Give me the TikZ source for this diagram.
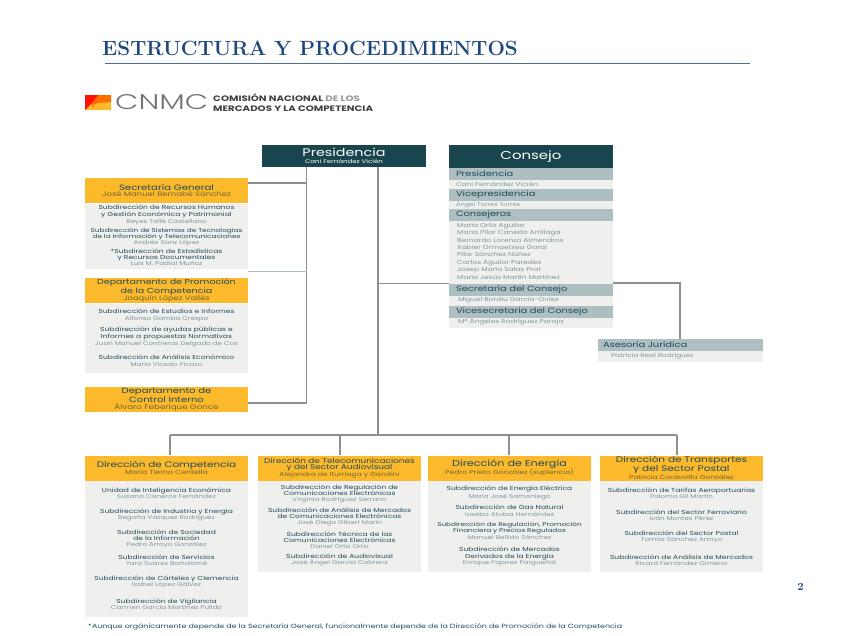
\documentclass[tikz,border=0pt]{standalone}
\usepackage{fontspec}
\usepackage{graphicx}
\setmainfont[FakeStretch=1.3]{Poppins}
\newfontfamily\titlefont{Latin Modern Roman}
\newfontfamily\thinfont{Poppins Light}
\definecolor{gold}{HTML}{FBB92B}
\definecolor{deep}{HTML}{19454F}
\definecolor{band}{HTML}{AEBFC1}
\definecolor{pale}{HTML}{EFEFEE}
\definecolor{ink}{HTML}{1F4A58}
\definecolor{soft}{HTML}{7F979D}
\definecolor{goldnm}{HTML}{75662F}
\definecolor{wire}{HTML}{8E8F90}
\definecolor{navy}{HTML}{1F497D}
\newcommand{\fs}[2]{\fontsize{#1}{#2}\selectfont}
\newcommand{\nm}[1]{{\fs{5.5}{6.2}\color{soft}#1}}
\newcommand{\gn}[1]{{\color{goldnm}#1}}
\tikzset{
 box/.style={inner sep=0pt,outer sep=0pt,minimum width=163pt},
 goldbox/.style={box,fill=gold,minimum height=25pt,align=center,text=ink,font=\fs{7.8}{7}},
 dirbox/.style={goldbox,font=\fs{8}{7.6}},
 panel/.style={box,fill=pale,anchor=north},
 bandrow/.style={box,fill=band,minimum width=164pt,minimum height=12pt,align=left,text=ink,font=\fs{7.6}{9},text width=150pt},
 namerow/.style={box,fill=pale,minimum width=164pt,align=left,text=soft,font=\fs{5.7}{7},text width=150pt},
 item/.style={inner sep=0pt,align=center,text=ink,font=\fs{5.8}{6.2}},
 wire/.style={draw=wire,line width=1.2pt},
 wirethin/.style={draw=wire,line width=.8pt},
}
\begin{document}
\begin{tikzpicture}[x=1pt,y=-1pt]
\useasboundingbox (0,0) rectangle (848,635);
% heading
\node[anchor=base west,inner sep=0pt,text=navy,font=\titlefont\bfseries\fs{20.6}{22}] (head) at (102,55) {ESTRUCTURA Y PROCEDIMIENTOS};
\coordinate (ruleL) at (105,63.5); \coordinate (ruleR) at (750,63.5);
\draw[draw=navy!80,line width=1.2pt] (ruleL) -- (ruleR);
% logo
\fill[gold] (85,95) rectangle (111,110);
\fill[orange!85!red] (92,110) -- (97,103) -- (111,102) -- (111,95) -- (92,95) -- cycle;
\fill[red!85!orange] (85,95) -- (98,95) -- (92,103) -- (85,110) -- cycle;
\fill[gold] (91,110) -- (95,104) -- (111,103) -- (111,110) -- cycle;
\node[inner sep=0pt,text=black!55,anchor=west] (logoa) at (115,102.5) {\resizebox{93pt}{15pt}{\thinfont CNMC}};
\node[inner sep=0pt,anchor=west,align=left,text=black!75,font=\bfseries\fs{7.9}{9.5}] (logob) at (213,102.5) {COMISIÓN NACIONAL {\color{black!40}DE LOS}\\MERCADOS Y LA COMPETENCIA};
% top boxes
\node[box,fill=deep,minimum width=164pt,minimum height=22pt] (pres) at (344,156) {};
\node[inner sep=0pt,text=white,font=\fs{11}{11}] (prest) at (344,152.5) {Presidencia};
\node[inner sep=0pt,text=white,font=\fs{5.4}{6}] (presn) at (344,161.5) {Cani Fernández Vicién};
% left column
\node[goldbox] (sec) at (166.5,190.5) {Secretaría General\\[-.5pt]\fs{6.5}{7}\gn{José Manuel Bernabé Sánchez}};
\node[panel,minimum height=65pt] (secp) at (166.5,203.5) {};
\node[item] (s1) at (166.5,215) {Subdirección de Recursos Humanos\\y Gestión Económica y Patrimonial\\[1pt]\nm{Reyes Tallé Castellano}};
\node[item,font=\fs{5.6}{6}] (s2) at (166.5,237) {Subdirección de Sistemas de Tecnologías\\de la Información y Telecomunicaciones\\[1pt]\nm{Andrés Sanz López}};
\node[item] (s3) at (166.5,257.5) {*Subdirección de Estadísticas\\y Recursos Documentales\\\nm{Luis M. Padial Muñoz}};
\node[goldbox,font=\fs{7.3}{7.4}] (dep) at (166.5,290.5) {Departamento de Promoción\\de la Competencia\\\fs{6.4}{7}\gn{Joaquín López Vallés}};
\node[panel,minimum height=69pt] (depp) at (166.5,303.5) {};
\node[item] (d1) at (166.5,315.5) {Subdirección de Estudios e Informes\\\nm{Alfonso Gamba Crespo}};
\node[item] (d2) at (166.5,337) {Subdirección de ayudas públicas e\\Informes a propuestas Normativas\\[1pt]\nm{Juan Manuel Contreras Delgado de Cos}};
\node[item] (d3) at (166.5,360.5) {Subdirección de Análisis Económico\\[1pt]\nm{María Vicedo Picazo}};
\node[goldbox,font=\fs{7.7}{7.6}] (ctl) at (166.5,399.5) {Departamento de\\Control Interno\\\fs{6.7}{7}\gn{Álvaro Feberique Gonce}};
% consejo
\node[box,fill=deep,minimum width=164pt,minimum height=23pt,text=white,font=\fs{11.5}{12}] (con) at (531,156.5) {Consejo};
\node[box,fill=pale,minimum width=164pt,minimum height=160pt,anchor=north] (conp) at (531,168) {};
\node[bandrow] (c1) at (531,173.7) {Presidencia};
\node[namerow] (c1n) at (531,184) {Cani Fernández Vicién};
\node[bandrow] (c2) at (531,195) {Vicepresidencia};
\node[namerow,font=\fs{5.2}{7}] (c2n) at (531,205) {Ángel Torres Torres};
\node[bandrow] (c3) at (531,215) {Consejeros};
\node[inner sep=0pt,anchor=north west,align=left,text=soft,font=\fs{5.7}{7.45}] (c3n) at (457,222.5) {María Ortiz Aguilar\\María Pilar Canedo Arrillaga\\Bernardo Lorenzo Almendros\\Xabier Ormaetxea Garai\\Pilar Sánchez Núñez\\Carlos Aguilar Paredes\\Josep María Salas Prat\\María Jesús Martín Martínez};
\node[bandrow] (c4) at (531,289.7) {Secretaría del Consejo};
\node[namerow] (c4n) at (531,300) {\hspace{2pt}Miguel Bordiu García-Ovies};
\node[bandrow] (c5) at (531,311.5) {Vicesecretaria del Consejo};
\node[namerow] (c5n) at (531,321.5) {\hspace{2pt}Mª Ángeles Rodríguez Paraja};
% asesoria
\node[bandrow,minimum width=165pt,text width=155pt] (ase) at (680.5,345) {Asesoría Jurídica};
\node[namerow,minimum width=165pt,minimum height=11pt,text width=155pt,font=\fs{5.6}{7}] (asen) at (680.5,356.5) {\hspace{8pt}Patricia Real Rodríguez};
% bottom column boxes
\node[dirbox] (b1) at (166.5,468) {Dirección de Competencia\\[-.6pt]\fs{6}{6}\gn{María Tierno Centella}};
\node[panel,minimum height=136pt] (b1p) at (166.5,481) {};
\node[dirbox,font=\fs{6.85}{6.4}] (b2) at (339.5,468) {Dirección de Telecomunicaciones\\y del Sector Audiovisual\\\fs{5.8}{7}\gn{Alejandra de Iturriaga y Gandini}};
\node[panel,minimum height=91pt] (b2p) at (339.5,481) {};
\node[dirbox,font=\fs{8.6}{7.6}] (b3) at (509.5,468) {Dirección de Energía\\[-.6pt]\fs{5.9}{6}\gn{Pedro Prieto González (suplencia)}};
\node[panel,minimum height=91pt] (b3p) at (509.5,481) {};
\node[dirbox,font=\fs{8.1}{6.6}] (b4) at (681.5,468) {Dirección de Transportes\\y del Sector Postal\\\fs{5.8}{6.6}\gn{Patricia Cordovilla González}};
\node[panel,minimum height=91pt] (b4p) at (681.5,481) {};
% items competencia
\node[item] (k1) at (166.5,493) {Unidad de Inteligencia Económica\\\nm{Susana Cisneros Fernández}};
\node[item] (k2) at (166.5,515) {Subdirección de Industria y Energía\\\nm{Begoña Vázquez Rodríguez}};
\node[item] (k3) at (166.5,539) {Subdirección de Sociedad\\de la Información\\\nm{Pedro Arroyo González}};
\node[item] (k4) at (166.5,560) {Subdirección de Servicios\\\nm{Yara Suárez Bartolomé}};
\node[item] (k5) at (166.5,582) {Subdirección de Cárteles y Clemencia\\\nm{Isabel López Gálvez}};
\node[item] (k6) at (166.5,604) {Subdirección de Vigilancia\\\nm{Carmen García Martínez Pulido}};
% items telecom
\node[item] (t1) at (339.5,494) {Subdirección de Regulación de\\Comunicaciones Electrónicas\\\nm{Virginia Rodríguez Serrano}};
\node[item] (t2) at (339.5,517) {Subdirección de Análisis de Mercados\\de Comunicaciones Electrónicas\\\nm{José Diego Gibert Marín}};
\node[item] (t3) at (339.5,540) {Subdirección Técnica de las\\Comunicaciones Electrónicas\\\nm{Daniel Ortiz Ortiz}};
\node[item] (t4) at (339.5,560) {Subdirección de Audiovisual\\\nm{José Ángel García Cabrera}};
% items energia
\node[item] (e1) at (509.5,493) {Subdirección de Energía Eléctrica\\[1pt]\nm{María José Samaniego}};
\node[item] (e2) at (509.5,510.5) {Subdirección de Gas Natural\\[.5pt]\nm{Ioseba Atutxa Hernández}};
\node[item,font=\fs{5.6}{6.2}] (e3) at (509.5,531) {Subdirección de Regulación, Promoción\\Financiera y Precios Regulados\\[1pt]\nm{Manuel Bellido Sánchez}};
\node[item] (e4) at (509.5,556.5) {Subdirección de Mercados\\Derivados de la Energía\\\nm{Enrique Pajares Pargueñal}};
% items transportes
\node[item] (p1) at (681.5,493) {Subdirección de Tarifas Aeroportuarias\\\nm{Paloma Gil Martín}};
\node[item] (p2) at (681.5,515) {Subdirección del Sector Ferroviario\\\nm{Iván Montes Pérez}};
\node[item] (p3) at (681.5,537) {Subdirección del Sector Postal\\\nm{Tomás Sánchez Arroyo}};
\node[item] (p4) at (681.5,560) {Subdirección de Análisis de Mercados\\\nm{Ricard Fernández Gimeno}};
% connector junctions
\coordinate (v1a) at (306.5,167); \coordinate (v1b) at (306.5,183);\coordinate (v1c) at (306.5,271);\coordinate (v1d) at (306.5,403);
\coordinate (sr) at (248,183); \coordinate (dr) at (248,271); \coordinate (cr) at (248,403);
\coordinate (v2a) at (378,167); \coordinate (v2b) at (378,283); \coordinate (v2c) at (378,435);
\coordinate (cl) at (449,283); \coordinate (crr) at (613,283); \coordinate (elb) at (680,283); \coordinate (at) at (680,339);
\coordinate (ba) at (170,435); \coordinate (bb) at (340,435); \coordinate (bc) at (509,435); \coordinate (bd) at (677,435);
\coordinate (ta) at (170,455); \coordinate (tb) at (340,455); \coordinate (tc) at (509,455); \coordinate (td) at (677,455);
\draw[wire] (v1a) -- (v1d) -- (cr);
\draw[wire] (sr) -- (v1b);
\draw[draw=band,line width=.7pt] (dr) -- (v1c);
\draw[wire] (v2a) -- (v2c);
\draw[wirethin] (v2b) -- (cl);
\draw[wire] (crr) -- (elb) -- (at);
\draw[wire] (ba) -- (bd);
\draw[wire] (ba) -- (ta); \draw[wire] (bb) -- (tb); \draw[wire] (bc) -- (tc); \draw[wire] (bd) -- (td);
% page number, footnote
\node[inner sep=0pt,text=navy,font=\titlefont\bfseries\fs{11}{11}] (pg) at (800.5,587) {2};
\node[inner sep=0pt,anchor=west,text=ink,font=\fs{6.07}{7}] (foot) at (88,627) {*Aunque orgánicamente depende de la Secretaría General, funcionalmente depende de la Dirección de Promoción de la Competencia};
\end{tikzpicture}
\end{document}
